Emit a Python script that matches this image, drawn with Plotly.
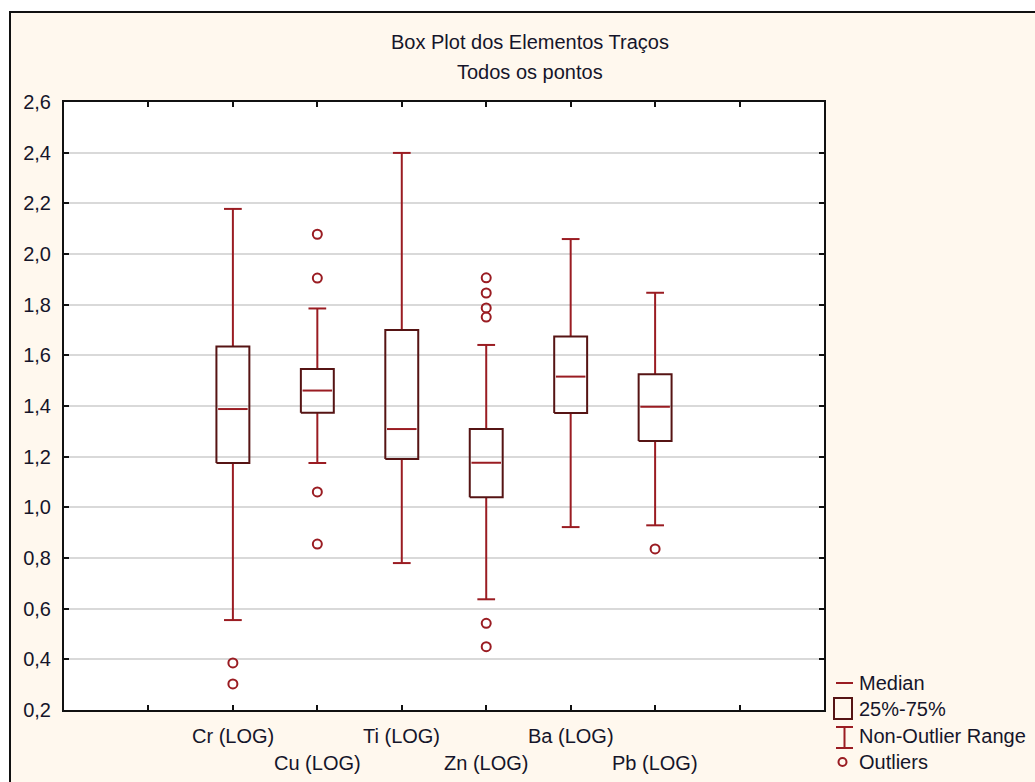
import plotly.graph_objects as go

# ---------------- data ----------------
categories = ["Cr (LOG)", "Cu (LOG)", "Ti (LOG)", "Zn (LOG)", "Ba (LOG)", "Pb (LOG)"]
median = [1.388, 1.461, 1.309, 1.176, 1.516, 1.397]
q1 = [1.175, 1.373, 1.191, 1.040, 1.372, 1.262]
q3 = [1.635, 1.546, 1.700, 1.309, 1.674, 1.525]
whisk_lo = [0.555, 1.175, 0.780, 0.637, 0.922, 0.929]
whisk_hi = [2.178, 1.785, 2.399, 1.641, 2.059, 1.847]
out_cr = [0.386, 0.303]
out_cu = [2.078, 1.905, 1.061, 0.855]
out_ti = []
out_zn = [1.906, 1.846, 1.787, 1.751, 0.542, 0.450]
out_ba = []
out_pb = [0.836]
outliers = [out_cr, out_cu, out_ti, out_zn, out_ba, out_pb]
y_ticks = [0.2, 0.4, 0.6, 0.8, 1.0, 1.2, 1.4, 1.6, 1.8, 2.0, 2.2, 2.4, 2.6]

# ---------------- styles ----------------
RED = "#9a1c22"
DARK = "#561414"
TXT = "#15152a"
FONT = "Liberation Sans"
FS = 20
BOX_HALF = 0.195
CAP_HALF = 0.105

pos = [i + 2 for i in range(len(categories))]

# geometry
L, R, T, B = 64, 211, 102, 72
W, H = 1035, 782
PW, PH = W - L - R, H - T - B


def px(xp):
    return (xp - L) / PW


def py(yp):
    return (H - B - yp) / PH


fig = go.Figure()

# whiskers + caps
wx, wy = [], []
for p, lo, hi, a, b in zip(pos, whisk_lo, whisk_hi, q1, q3):
    wx += [p, p, None, p, p, None, p - CAP_HALF, p + CAP_HALF, None, p - CAP_HALF, p + CAP_HALF, None]
    wy += [b, hi, None, a, lo, None, hi, hi, None, lo, lo, None]
fig.add_trace(go.Scatter(x=wx, y=wy, mode="lines", line=dict(color=RED, width=2),
                         hoverinfo="skip", showlegend=False))

# boxes
bx, by = [], []
for p, a, b in zip(pos, q1, q3):
    bx += [p - BOX_HALF, p + BOX_HALF, p + BOX_HALF, p - BOX_HALF, p - BOX_HALF, None]
    by += [a, a, b, b, a, None]
fig.add_trace(go.Scatter(x=bx, y=by, mode="lines", line=dict(color=DARK, width=2),
                         hoverinfo="skip", showlegend=False))

# medians
mx, my = [], []
for p, m in zip(pos, median):
    mx += [p - BOX_HALF + 0.02, p + BOX_HALF - 0.02, None]
    my += [m, m, None]
fig.add_trace(go.Scatter(x=mx, y=my, mode="lines", line=dict(color=RED, width=2),
                         hoverinfo="skip", showlegend=False))

# outliers
ox, oy = [], []
for p, outs in zip(pos, outliers):
    for v in outs:
        ox.append(p)
        oy.append(v)
fig.add_trace(go.Scatter(x=ox, y=oy, mode="markers",
                         marker=dict(symbol="circle-open", size=9, color=RED, line=dict(width=2, color=RED)),
                         hoverinfo="skip", showlegend=False))

shapes = [
    # cream frame
    dict(type="rect", xref="paper", yref="paper", x0=px(10), x1=px(1045), y0=py(795), y1=py(12),
         fillcolor="#fff8ee", line=dict(color="#111", width=2), layer="below"),
    # white plot area
    dict(type="rect", xref="paper", yref="paper", x0=0, x1=1, y0=0, y1=1,
         fillcolor="white", line=dict(width=0), layer="below"),
    # legend symbols
    dict(type="line", xref="paper", yref="paper", x0=px(836), x1=px(853), y0=py(683), y1=py(683),
         line=dict(color=RED, width=2)),
    dict(type="rect", xref="paper", yref="paper", x0=px(834), x1=px(852), y0=py(719), y1=py(698),
         line=dict(color=DARK, width=2), fillcolor="rgba(0,0,0,0)"),
    dict(type="line", xref="paper", yref="paper", x0=px(844.5), x1=px(844.5), y0=py(748), y1=py(727),
         line=dict(color=RED, width=2)),
    dict(type="line", xref="paper", yref="paper", x0=px(836), x1=px(853), y0=py(727), y1=py(727),
         line=dict(color=RED, width=2)),
    dict(type="line", xref="paper", yref="paper", x0=px(836), x1=px(853), y0=py(748), y1=py(748),
         line=dict(color=RED, width=2)),
    dict(type="circle", xref="paper", yref="paper", x0=px(838.5), x1=px(846.5), y0=py(766), y1=py(758),
         line=dict(color=RED, width=2), fillcolor="rgba(0,0,0,0)"),
]

annotations = [
    dict(text="Box Plot dos Elementos Traços", xref="paper", yref="paper", x=px(530), y=py(42),
         showarrow=False, xanchor="center", yanchor="middle", font=dict(family=FONT, size=FS, color=TXT)),
    dict(text="Todos os pontos", xref="paper", yref="paper", x=px(530), y=py(72),
         showarrow=False, xanchor="center", yanchor="middle", font=dict(family=FONT, size=FS, color=TXT)),
]
for i, (p, c) in enumerate(zip(pos, categories)):
    annotations.append(dict(text=c, xref="x", yref="paper", x=p, y=py(736 if i % 2 == 0 else 763),
                            showarrow=False, xanchor="center", yanchor="middle",
                            font=dict(family=FONT, size=FS, color=TXT)))
for yv, t in zip([683, 709, 736, 762], ["Median", "25%-75%", "Non-Outlier Range", "Outliers"]):
    annotations.append(dict(text=t, xref="paper", yref="paper", x=px(857), y=py(yv),
                            showarrow=False, xanchor="left", yanchor="middle",
                            font=dict(family=FONT, size=FS, color=TXT)))

fig.update_layout(
    width=W, height=H,
    margin=dict(l=L, r=R, t=T, b=B, pad=0),
    paper_bgcolor="white",
    plot_bgcolor="rgba(0,0,0,0)",
    separators=",.",
    shapes=shapes,
    annotations=annotations,
    showlegend=False,
    font=dict(family=FONT, size=FS, color=TXT),
    xaxis=dict(range=[0, 9], tickvals=[1, 2, 3, 4, 5, 6, 7, 8], showticklabels=False,
               ticks="inside", ticklen=5, tickwidth=1.5, tickcolor="#111",
               showline=True, linecolor="#111", linewidth=2, mirror="ticks",
               showgrid=False, zeroline=False, fixedrange=True),
    yaxis=dict(range=[0.2, 2.6], tickvals=y_ticks, tickformat=".1f",
               ticks="inside", ticklen=5, tickwidth=1.5, tickcolor="#111",
               showline=True, linecolor="#111", linewidth=2, mirror="ticks",
               showgrid=True, gridcolor="#d9d9d9", gridwidth=2, zeroline=False,
               ticklabelstandoff=7, tickfont=dict(family=FONT, size=FS, color=TXT),
               fixedrange=True),
)

fig.write_html(
    "out.html",
    config={"displayModeBar": False},
    post_script="document.body.style.margin='0';document.body.style.overflow='hidden';",
)
